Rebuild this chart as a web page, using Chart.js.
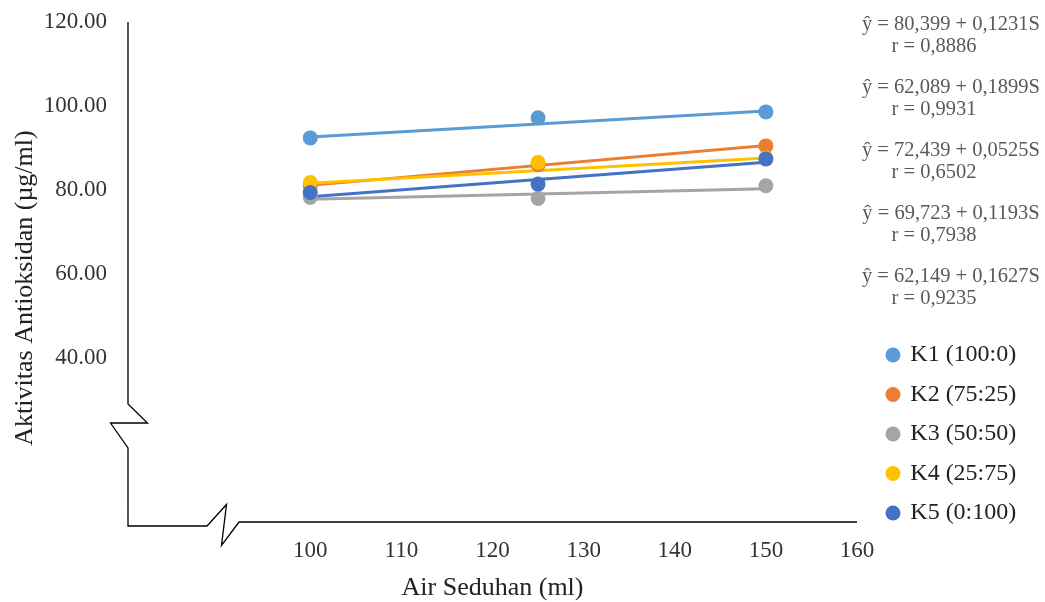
<!DOCTYPE html>
<html>
<head>
<meta charset="utf-8">
<script src="https://cdn.jsdelivr.net/npm/chart.js@4.4.1/dist/chart.umd.min.js"></script>
<style>
html,body{margin:0;padding:0;background:#ffffff;}
#wrap{width:1045px;height:602px;position:relative;}
</style>
</head>
<body>
<div id="wrap"><canvas id="c"></canvas></div>
<script>
// ---- data ----
const airSeduhan = [100, 125, 150];
const seriesLabels = ['K1 (100:0)', 'K2 (75:25)', 'K3 (50:50)', 'K4 (25:75)', 'K5 (0:100)'];
const k1 = [92.4, 97.2, 98.6];
const k2 = [81.0, 86.0, 90.5];
const k3 = [78.2, 78.0, 81.0];
const k4 = [81.8, 86.6, 87.6];
const k5 = [79.4, 81.4, 87.4];
// linear trendline end points (x = 100 and x = 150)
const trendX = [100, 150];
const k1Trend = [92.6, 98.8];
const k2Trend = [81.1, 90.6];
const k3Trend = [77.8, 80.3];
const k4Trend = [81.6, 87.6];
const k5Trend = [78.4, 86.6];
const equations = ['ŷ = 80,399 + 0,1231S', 'ŷ = 62,089 + 0,1899S', 'ŷ = 72,439 + 0,0525S', 'ŷ = 69,723 + 0,1193S', 'ŷ = 62,149 + 0,1627S'];
const rValues = ['r = 0,8886', 'r = 0,9931', 'r = 0,6502', 'r = 0,7938', 'r = 0,9235'];
const xTickValues = [100, 110, 120, 130, 140, 150, 160];
const xTickLabels = ['100', '110', '120', '130', '140', '150', '160'];
const yTickValues = [40, 60, 80, 100, 120];
const yTickLabels = ['40.00', '60.00', '80.00', '100.00', '120.00'];
const xTitle = 'Air Seduhan (ml)';
const yTitle = 'Aktivitas Antioksidan (µg/ml)';

const colors = ['#5B9BD5', '#ED7D31', '#A5A5A5', '#FFC000', '#4472C4'];
const FONT = '"Liberation Serif", "Times New Roman", serif';

const pointSeries = [k1, k2, k3, k4, k5];
const trendSeries = [k1Trend, k2Trend, k3Trend, k4Trend, k5Trend];

const datasets = [];
pointSeries.forEach((vals, i) => {
  datasets.push({
    label: seriesLabels[i],
    data: airSeduhan.map((x, j) => ({x: x, y: vals[j]})),
    showLine: false,
    backgroundColor: colors[i],
    borderColor: colors[i],
    borderWidth: 0,
    pointRadius: 7.5,
    pointHoverRadius: 7.5,
    pointBorderWidth: 0,
    pointStyle: 'circle',
    order: 4 - i
  });
});
trendSeries.forEach((vals, i) => {
  datasets.push({
    label: seriesLabels[i] + ' trend',
    data: trendX.map((x, j) => ({x: x, y: vals[j]})),
    showLine: true,
    borderColor: colors[i],
    backgroundColor: colors[i],
    borderWidth: 3,
    pointRadius: 0,
    pointHoverRadius: 0,
    fill: false,
    order: 10 + (4 - i)
  });
});

const decorPlugin = {
  id: 'decor',
  beforeDatasetsDraw(chart) {
    const ctx = chart.ctx;
    const {left, right, top, bottom} = chart.chartArea;
    ctx.save();
    ctx.strokeStyle = '#000000';
    ctx.lineWidth = 1.3;
    ctx.lineJoin = 'miter';
    // vertical axis with break
    ctx.beginPath();
    ctx.moveTo(left, top);
    ctx.lineTo(left, bottom - 122);
    ctx.lineTo(left + 19.5, bottom - 103);
    ctx.lineTo(left - 17.5, bottom - 103);
    ctx.lineTo(left, bottom - 78);
    ctx.lineTo(left, bottom);
    // horizontal axis with break
    ctx.lineTo(left + 79, bottom);
    ctx.lineTo(left + 98.5, bottom - 21.5);
    ctx.lineTo(left + 93.5, bottom + 19.5);
    ctx.lineTo(left + 111, bottom - 4);
    ctx.lineTo(right, bottom - 4);
    ctx.stroke();
    ctx.restore();
  },
  afterDraw(chart) {
    const ctx = chart.ctx;
    ctx.save();
    // y axis title
    ctx.fillStyle = '#222222';
    ctx.font = '26px ' + FONT;
    ctx.textAlign = 'center';
    ctx.textBaseline = 'middle';
    ctx.translate(25, 288);
    ctx.rotate(-Math.PI / 2);
    ctx.fillText(yTitle, 0, 0);
    ctx.restore();
    // regression equations
    ctx.save();
    ctx.fillStyle = '#595959';
    ctx.font = '20.5px ' + FONT;
    ctx.textAlign = 'center';
    ctx.textBaseline = 'middle';
    equations.forEach((t, i) => {
      ctx.fillText(t, 951, 25 + 63 * i);
      ctx.fillText(rValues[i], 934, 47 + 63 * i);
    });
    ctx.restore();
  }
};

new Chart(document.getElementById('c'), {
  type: 'scatter',
  data: {datasets: datasets},
  options: {
    responsive: true,
    maintainAspectRatio: false,
    animation: false,
    devicePixelRatio: 1,
    layout: {padding: {left: 0, top: 22, right: 22.8, bottom: 0}},
    plugins: {
      tooltip: {enabled: false},
      legend: {
        display: true,
        position: 'right',
        align: 'start',
        maxWidth: 150,
        title: {display: true, text: '', padding: {top: 293.5, bottom: 0}, font: {size: 10, lineHeight: 1.2}},
        labels: {
          usePointStyle: true,
          pointStyle: 'circle',
          boxWidth: 10.6,
          boxHeight: 10.6,
          padding: 15.5,
          color: '#222222',
          font: {family: FONT, size: 24},
          filter: (item) => item.datasetIndex < 5,
          sort: (a, b) => a.datasetIndex - b.datasetIndex
        }
      }
    },
    scales: {
      x: {
        type: 'linear',
        position: 'bottom',
        min: 80,
        max: 160,
        afterBuildTicks: (s) => { s.ticks = [80, 90].concat(xTickValues).map(v => ({value: v})); },
        ticks: {
          autoSkip: false,
          maxRotation: 0,
          padding: 11,
          color: '#333333',
          font: {family: FONT, size: 23},
          callback: (v) => { const k = xTickValues.indexOf(v); return k >= 0 ? xTickLabels[k] : ''; }
        },
        grid: {display: false, drawTicks: false},
        border: {display: false},
        title: {display: true, text: xTitle, color: '#222222', padding: 0, font: {family: FONT, size: 26, lineHeight: 1.1}},
        afterFit: (s) => { s.height = 76; }
      },
      y: {
        type: 'linear',
        position: 'left',
        min: 0,
        max: 120,
        afterBuildTicks: (s) => { s.ticks = [0, 20].concat(yTickValues).map(v => ({value: v})); },
        ticks: {
          padding: 21,
          color: '#333333',
          font: {family: FONT, size: 23, lineHeight: 0.04},
          callback: (v) => { const k = yTickValues.indexOf(v); return k >= 0 ? yTickLabels[k] : ''; }
        },
        grid: {display: false, drawTicks: false},
        border: {display: false},
        afterFit: (s) => { s.width = 128; }
      },
      y2: {
        type: 'linear',
        position: 'right',
        display: true,
        grid: {display: false, drawTicks: false},
        border: {display: false},
        ticks: {display: false},
        afterFit: (s) => { s.width = 15.2; }
      }
    }
  },
  plugins: [decorPlugin]
});
</script>
</body>
</html>
